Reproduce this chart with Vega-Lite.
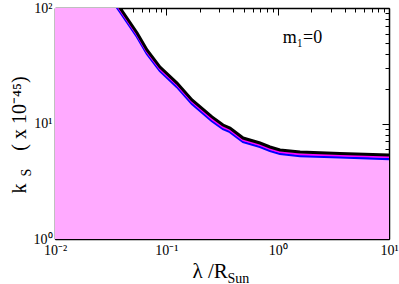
{
  "$schema": "https://vega.github.io/schema/vega-lite/v6.json",
  "width": 334,
  "height": 231,
  "autosize": "none",
  "padding": {"left": 55, "top": 8, "right": 10, "bottom": 45},
  "config": {
    "view": {"stroke": null},
    "axis": {
      "grid": false,
      "labelFont": "Liberation Serif",
      "titleFont": "Liberation Serif",
      "labelColor": "black",
      "titleColor": "black",
      "tickColor": "black",
      "domainColor": "black",
      "titleFontWeight": "normal",
      "labelFontSize": 14,
      "titleFontSize": 20,
      "labelFlush": false,
      "labelOverlap": false,
      "labelBound": false
    }
  },
  "data": {
    "values": [
      {"x": 0.01, "black": 670, "magenta": 643, "blue": 620},
      {"x": 0.03, "black": 142, "magenta": 136.3, "blue": 131.4},
      {"x": 0.0384, "black": 100, "magenta": 96.0, "blue": 92.5},
      {"x": 0.0546, "black": 60.8, "magenta": 58.4, "blue": 56.2},
      {"x": 0.067, "black": 43.3, "magenta": 41.6, "blue": 40.1},
      {"x": 0.0877, "black": 30.8, "magenta": 29.6, "blue": 28.5},
      {"x": 0.1247, "black": 22.4, "magenta": 21.5, "blue": 20.7},
      {"x": 0.17, "black": 16.0, "magenta": 15.4, "blue": 14.8},
      {"x": 0.257, "black": 11.4, "magenta": 10.9, "blue": 10.5},
      {"x": 0.323, "black": 9.7, "magenta": 9.31, "blue": 8.97},
      {"x": 0.373, "black": 9.14, "magenta": 8.77, "blue": 8.45},
      {"x": 0.489, "black": 7.48, "magenta": 7.18, "blue": 6.92},
      {"x": 0.694, "black": 6.78, "magenta": 6.51, "blue": 6.27},
      {"x": 0.853, "black": 6.26, "magenta": 6.01, "blue": 5.79},
      {"x": 1.05, "black": 5.9, "magenta": 5.66, "blue": 5.46},
      {"x": 1.59, "black": 5.66, "magenta": 5.43, "blue": 5.24},
      {"x": 3.63, "black": 5.5, "magenta": 5.28, "blue": 5.09},
      {"x": 10, "black": 5.33, "magenta": 5.12, "blue": 4.93}
    ]
  },
  "resolve": {"axis": {"x": "independent", "y": "independent"}},
  "layer": [
    {
      "mark": {"type": "area", "color": "#ffaaff", "clip": true},
      "encoding": {
        "x": {
          "field": "x", "type": "quantitative",
          "scale": {"type": "log", "domain": [0.01, 10]},
          "axis": {
            "orient": "bottom", "values": [0.01, 0.1, 1, 10],
            "labelExpr": "datum.value == 0.01 ? '10⁻²' : datum.value == 0.1 ? '10⁻¹' : datum.value == 1 ? '10⁰' : '10¹'",
            "tickSize": -7, "domainWidth": 1.5, "labelPadding": 11,
            "title": "λ /R", "titleX": 137, "titleY": 38, "titleAlign": "left",
            "titleBaseline": "alphabetic", "titleFontSize": 21
          }
        },
        "y": {
          "field": "black", "type": "quantitative",
          "scale": {"type": "log", "domain": [1, 100]},
          "axis": {
            "orient": "left", "values": [1, 10, 100],
            "labelExpr": "datum.value == 1 ? '10⁰' : datum.value == 10 ? '10¹' : '10²'",
            "tickSize": -7, "domainWidth": 1.5, "labelPadding": 10,
            "title": null
          }
        },
        "y2": {"datum": 1}
      }
    },
    {
      "mark": {"type": "line", "color": "#0000ff", "strokeWidth": 2.5, "clip": true},
      "encoding": {
        "x": {
          "field": "x", "type": "quantitative",
          "scale": {"type": "log", "domain": [0.01, 10]},
          "axis": {
            "orient": "bottom",
            "values": [0.02, 0.03, 0.04, 0.05, 0.06, 0.07, 0.08, 0.09, 0.2, 0.3, 0.4, 0.5, 0.6, 0.7, 0.8, 0.9, 2, 3, 4, 5, 6, 7, 8, 9],
            "labels": false, "domain": false, "tickSize": -4,
            "title": "k", "titleX": -30, "titleY": -51, "titleAngle": 270,
            "titleAlign": "center", "titleBaseline": "alphabetic", "titleFontSize": 20
          }
        },
        "y": {
          "field": "blue", "type": "quantitative",
          "scale": {"type": "log", "domain": [1, 100]},
          "axis": {
            "orient": "left",
            "values": [2, 3, 4, 5, 6, 7, 8, 9, 20, 30, 40, 50, 60, 70, 80, 90],
            "labels": false, "domain": false, "tickSize": -4, "title": null
          }
        }
      }
    },
    {
      "mark": {"type": "line", "color": "#ff00ff", "strokeWidth": 2, "clip": true},
      "encoding": {
        "x": {
          "field": "x", "type": "quantitative",
          "scale": {"type": "log", "domain": [0.01, 10]},
          "axis": {
            "orient": "top", "values": [0.01, 0.1, 1, 10],
            "labels": false, "tickSize": -7, "domainWidth": 1.5,
            "title": "Sun", "titleX": 172, "titleY": 274, "titleAlign": "left",
            "titleBaseline": "alphabetic", "titleFontSize": 14
          }
        },
        "y": {
          "field": "magenta", "type": "quantitative",
          "scale": {"type": "log", "domain": [1, 100]},
          "axis": {
            "orient": "right", "values": [1, 10, 100],
            "labels": false, "tickSize": -7, "domainWidth": 1.5,
            "title": "( x 10⁻⁴⁵)", "titleX": -364, "titleY": 105, "titleAngle": 270,
            "titleAlign": "center", "titleBaseline": "alphabetic", "titleFontSize": 20
          }
        }
      }
    },
    {
      "mark": {"type": "line", "color": "#000000", "strokeWidth": 3, "clip": true},
      "encoding": {
        "x": {
          "field": "x", "type": "quantitative",
          "scale": {"type": "log", "domain": [0.01, 10]},
          "axis": {
            "orient": "top",
            "values": [0.02, 0.03, 0.04, 0.05, 0.06, 0.07, 0.08, 0.09, 0.2, 0.3, 0.4, 0.5, 0.6, 0.7, 0.8, 0.9, 2, 3, 4, 5, 6, 7, 8, 9],
            "labels": false, "domain": false, "tickSize": -4,
            "title": "m₁=0", "titleX": 247, "titleY": 34, "titleAlign": "center",
            "titleBaseline": "alphabetic", "titleFontSize": 18
          }
        },
        "y": {
          "field": "black", "type": "quantitative",
          "scale": {"type": "log", "domain": [1, 100]},
          "axis": {
            "orient": "right",
            "values": [2, 3, 4, 5, 6, 7, 8, 9, 20, 30, 40, 50, 60, 70, 80, 90],
            "labels": false, "domain": false, "tickSize": -4,
            "title": "S", "titleX": -359, "titleY": 164, "titleAngle": 270,
            "titleAlign": "center", "titleBaseline": "alphabetic", "titleFontSize": 14
          }
        }
      }
    }
  ]
}
